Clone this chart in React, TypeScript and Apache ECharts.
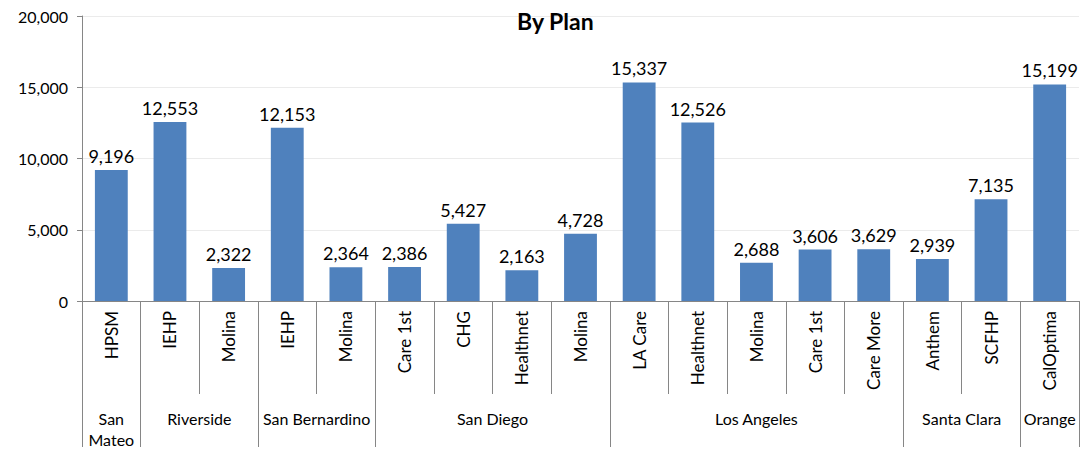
import React, { useEffect, useRef } from "react";
import * as echarts from "echarts";

const plans = [
  "HPSM", "IEHP", "Molina", "IEHP", "Molina", "Care 1st", "CHG", "Healthnet", "Molina",
  "LA Care", "Healthnet", "Molina", "Care 1st", "Care More", "Anthem", "SCFHP", "CalOptima",
];
const values = [
  9196, 12553, 2322, 12153, 2364, 2386, 5427, 2163, 4728,
  15337, 12526, 2688, 3606, 3629, 2939, 7135, 15199,
];
const counties = ["San\nMateo", "Riverside", "San Bernardino", "San Diego", "Los Angeles", "Santa Clara", "Orange"];
const countySizes = [1, 2, 2, 4, 5, 2, 1];
const yTicks = { min: 0, max: 20000, interval: 5000 };
const title = "By Plan";

const FONT = "Lato";
const fmt = (v: number) => v.toLocaleString("en-US");

export default function App() {
  const ref = useRef<HTMLDivElement>(null);
  useEffect(() => {
    if (!ref.current) return;
    const chart = echarts.init(ref.current, undefined, { renderer: "svg" });

    const halfCount = plans.length * 2 + 1;
    const groupData: string[] = new Array(halfCount).fill("");
    const boundaries = new Set<number>([0]);
    let pos = 0;
    countySizes.forEach((n, i) => {
      groupData[pos * 2 + n] = counties[i];
      pos += n;
      boundaries.add(pos * 2);
    });

    chart.setOption({
      animation: false,
      textStyle: { fontFamily: FONT },
      title: {
        text: title,
        left: 512,
        top: 4,
        textStyle: { fontFamily: FONT, fontWeight: "bold", fontSize: 23, color: "#000" },
      },
      grid: { left: 82, right: 13, top: 16, bottom: 146, containLabel: false },
      xAxis: [
        {
          type: "category",
          data: plans,
          axisLine: { show: true, lineStyle: { color: "#868686", width: 1 } },
          axisTick: { show: true, interval: 0, length: 93, lineStyle: { color: "#868686" } },
          axisLabel: {
            interval: 0,
            rotate: 90,
            margin: 10,
            fontSize: 17,
            fontFamily: FONT,
            color: "#000",
          },
        },
        {
          type: "category",
          data: groupData,
          position: "bottom",
          boundaryGap: false,
          axisLine: { show: false },
          axisTick: {
            show: true,
            interval: (idx: number) => boundaries.has(idx),
            length: 146,
            lineStyle: { color: "#868686" },
          },
          axisLabel: {
            interval: 0,
            margin: 107,
            fontSize: 16,
            fontFamily: FONT,
            color: "#000",
            lineHeight: 21,
          },
        },
      ],
      yAxis: {
        type: "value",
        min: yTicks.min,
        max: yTicks.max,
        interval: yTicks.interval,
        axisLine: { show: true, lineStyle: { color: "#868686" } },
        axisTick: { show: true, length: 5, lineStyle: { color: "#868686" } },
        axisLabel: {
          formatter: (v: number) => fmt(v),
          fontSize: 16,
          fontFamily: FONT,
          color: "#000",
          margin: 14,
        },
        splitLine: { show: true, lineStyle: { color: "#ebebeb" } },
      },
      series: [
        {
          type: "bar",
          xAxisIndex: 0,
          data: values,
          barWidth: "56%",
          itemStyle: { color: "#4f81bd" },
          label: {
            show: true,
            position: "top",
            distance: 5,
            formatter: (p: any) => fmt(p.value),
            fontSize: 18,
            fontFamily: FONT,
            color: "#000",
          },
        },
      ],
    });
    return () => chart.dispose();
  }, []);
  return (
    <div
      ref={ref}
      style={{ position: "absolute", left: 0, top: 0, width: 1092, height: 450, background: "#fff" }}
    />
  );
}
